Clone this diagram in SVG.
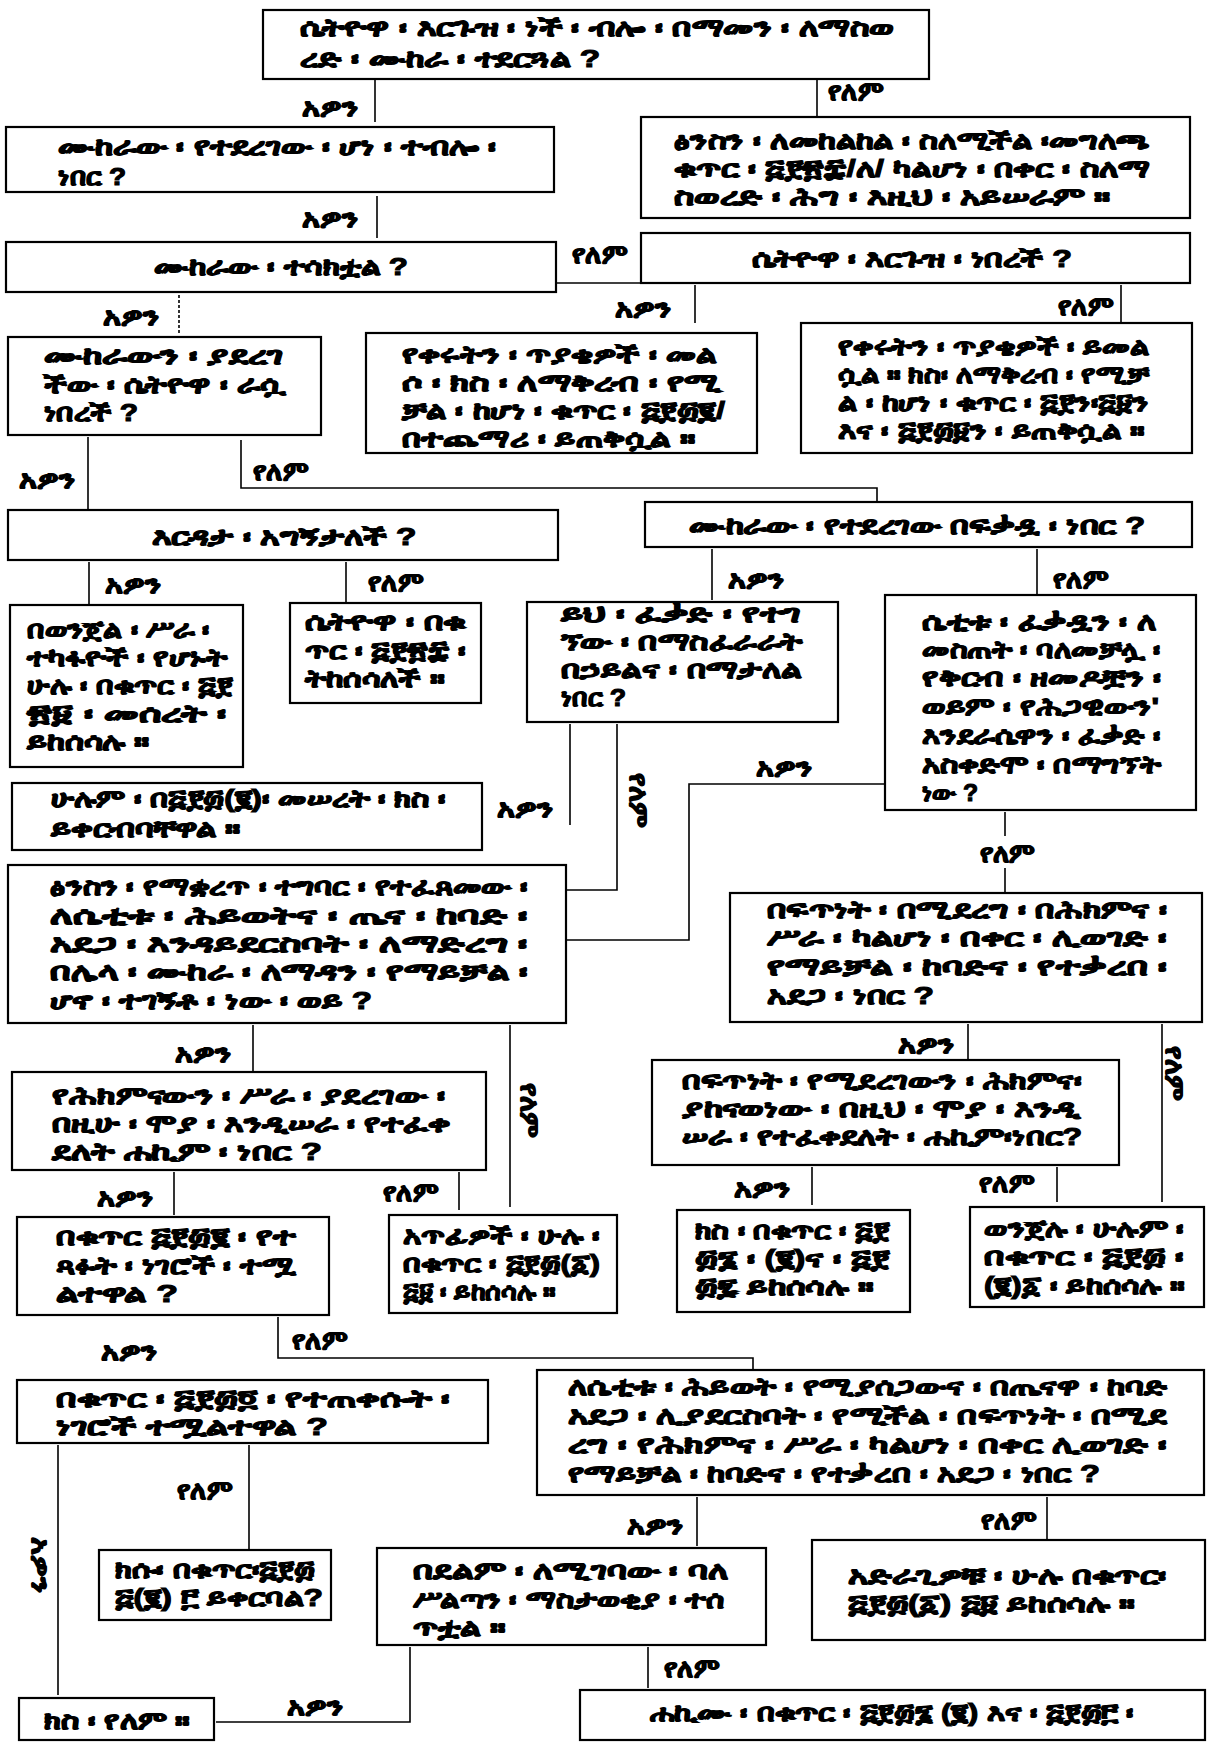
<svg xmlns="http://www.w3.org/2000/svg" width="1207" height="1743" viewBox="0 0 1207 1743">
<style>
.bx{fill:#fff;stroke:#000;stroke-width:2.2}
.t{font-family:"Liberation Sans","DejaVu Sans","Noto Sans",sans-serif;font-size:24px;font-weight:bold;fill:#000;stroke:#000;stroke-width:1.1}
.lb{font-family:"Liberation Sans","DejaVu Sans","Noto Sans",sans-serif;font-size:25px;font-weight:bold;fill:#000;stroke:#000;stroke-width:1.1}
.c{text-anchor:middle}
.ln{stroke:#000;stroke-width:1.6;fill:none}
.dt{stroke:#000;stroke-width:1.6;fill:none;stroke-dasharray:3 2}
</style>
<rect width="1207" height="1743" fill="#fff"/>
<g id="connectors">
<path class="ln" d="M375 80V122"/>
<path class="ln" d="M817 80V117"/>
<path class="ln" d="M377 196V238"/>
<path class="ln" d="M556 283H641"/>
<path class="dt" d="M179 295V335"/>
<path class="ln" d="M695 285V323"/>
<path class="ln" d="M1121 285V323"/>
<path class="ln" d="M88 437V510"/>
<path class="ln" d="M241 440V488H877V502"/>
<path class="ln" d="M89 562V605"/>
<path class="ln" d="M346 562V603"/>
<path class="ln" d="M712 549V600"/>
<path class="ln" d="M1037 549V595"/>
<path class="ln" d="M570 724V825"/>
<path class="ln" d="M617 724V890H566"/>
<path class="ln" d="M885 784H689V940H566"/>
<path class="ln" d="M1005 812V836M1005 868V893"/>
<path class="ln" d="M253 1025V1072"/>
<path class="ln" d="M510 1025V1207"/>
<path class="ln" d="M968 1024V1060"/>
<path class="ln" d="M1162 1024V1202"/>
<path class="ln" d="M174 1172V1215"/>
<path class="ln" d="M459 1172V1210"/>
<path class="ln" d="M812 1167V1205"/>
<path class="ln" d="M1057 1167V1202"/>
<path class="ln" d="M278 1317V1358H753V1370"/>
<path class="ln" d="M249 1445V1550"/>
<path class="ln" d="M58 1445V1695"/>
<path class="ln" d="M697 1497V1546"/>
<path class="ln" d="M1047 1497V1540"/>
<path class="ln" d="M410 1647V1722H216"/>
<path class="ln" d="M648 1647V1688"/>
<g class="lb">
<text x="302" y="116" textLength="56" lengthAdjust="spacingAndGlyphs">አዎን</text>
<text x="828" y="100" textLength="55" lengthAdjust="spacingAndGlyphs">የለም</text>
<text x="302" y="227" textLength="56" lengthAdjust="spacingAndGlyphs">አዎን</text>
<text x="572" y="263" textLength="55" lengthAdjust="spacingAndGlyphs">የለም</text>
<text x="103" y="325" textLength="56" lengthAdjust="spacingAndGlyphs">አዎን</text>
<text x="615" y="317" textLength="56" lengthAdjust="spacingAndGlyphs">አዎን</text>
<text x="1058" y="315" textLength="55" lengthAdjust="spacingAndGlyphs">የለም</text>
<text x="19" y="488" textLength="56" lengthAdjust="spacingAndGlyphs">አዎን</text>
<text x="253" y="480" textLength="55" lengthAdjust="spacingAndGlyphs">የለም</text>
<text x="105" y="593" textLength="56" lengthAdjust="spacingAndGlyphs">አዎን</text>
<text x="368" y="591" textLength="55" lengthAdjust="spacingAndGlyphs">የለም</text>
<text x="728" y="588" textLength="56" lengthAdjust="spacingAndGlyphs">አዎን</text>
<text x="1053" y="588" textLength="55" lengthAdjust="spacingAndGlyphs">የለም</text>
<text x="497" y="817" textLength="56" lengthAdjust="spacingAndGlyphs">አዎን</text>
<text x="0" y="0" class="c" transform="translate(630 800) rotate(90)" textLength="55" lengthAdjust="spacingAndGlyphs">የለም</text>
<text x="756" y="776" textLength="56" lengthAdjust="spacingAndGlyphs">አዎን</text>
<text x="1007" y="862" class="c" textLength="55" lengthAdjust="spacingAndGlyphs">የለም</text>
<text x="175" y="1062" textLength="56" lengthAdjust="spacingAndGlyphs">አዎን</text>
<text x="0" y="0" class="c" transform="translate(521 1110) rotate(90)" textLength="55" lengthAdjust="spacingAndGlyphs">የለም</text>
<text x="898" y="1053" textLength="56" lengthAdjust="spacingAndGlyphs">አዎን</text>
<text x="0" y="0" class="c" transform="translate(1166 1073) rotate(90)" textLength="55" lengthAdjust="spacingAndGlyphs">የለም</text>
<text x="97" y="1206" textLength="56" lengthAdjust="spacingAndGlyphs">አዎን</text>
<text x="383" y="1201" textLength="55" lengthAdjust="spacingAndGlyphs">የለም</text>
<text x="734" y="1197" textLength="56" lengthAdjust="spacingAndGlyphs">አዎን</text>
<text x="979" y="1192" textLength="55" lengthAdjust="spacingAndGlyphs">የለም</text>
<text x="101" y="1360" textLength="56" lengthAdjust="spacingAndGlyphs">አዎን</text>
<text x="292" y="1349" textLength="55" lengthAdjust="spacingAndGlyphs">የለም</text>
<text x="177" y="1499" textLength="55" lengthAdjust="spacingAndGlyphs">የለም</text>
<text x="0" y="0" class="c" transform="translate(32 1565) rotate(90)" textLength="56" lengthAdjust="spacingAndGlyphs">አዎን</text>
<text x="627" y="1534" textLength="56" lengthAdjust="spacingAndGlyphs">አዎን</text>
<text x="981" y="1529" textLength="55" lengthAdjust="spacingAndGlyphs">የለም</text>
<text x="287" y="1715" textLength="56" lengthAdjust="spacingAndGlyphs">አዎን</text>
<text x="664" y="1677" textLength="55" lengthAdjust="spacingAndGlyphs">የለም</text>
</g>
</g>
<g id="nA"><rect class="bx" x="263" y="10" width="666" height="69"/><text class="t"><tspan x="300" y="36" textLength="594" lengthAdjust="spacingAndGlyphs">ሴትዮዋ ፡ እርጉዝ ፡ ነች ፡ ብሎ ፡ በማመን ፡ ለማስወ</tspan><tspan x="300" y="67" textLength="300" lengthAdjust="spacingAndGlyphs">ረድ ፡ ሙከራ ፡ ተደርጓል ?</tspan></text></g>
<g id="nB"><rect class="bx" x="6" y="127" width="548" height="65"/><text class="t"><tspan x="58" y="155" textLength="438" lengthAdjust="spacingAndGlyphs">ሙከራው ፡ የተደረገው ፡ ሆነ ፡ ተብሎ ፡</tspan><tspan x="58" y="185" textLength="68" lengthAdjust="spacingAndGlyphs">ነበር ?</tspan></text></g>
<g id="nC"><rect class="bx" x="641" y="117" width="549" height="101"/><text class="t"><tspan x="674" y="149" textLength="476" lengthAdjust="spacingAndGlyphs">ፅንስን ፡ ለመከልከል ፡ ስለሚችል ፡መግለጫ</tspan><tspan x="674" y="177" textLength="476" lengthAdjust="spacingAndGlyphs">ቁጥር ፡ ፭፻፳፰/ለ/ ካልሆነ ፡ በቀር ፡ ስለማ</tspan><tspan x="674" y="205" textLength="436" lengthAdjust="spacingAndGlyphs">ስወረድ ፡ ሕግ ፡ እዚህ ፡ አይሠራም ።</tspan></text></g>
<g id="nD"><rect class="bx" x="6" y="242" width="550" height="50"/><text class="t c" x="281" y="275" textLength="254" lengthAdjust="spacingAndGlyphs">ሙከራው ፡ ተሳክቷል ?</text></g>
<g id="nE"><rect class="bx" x="641" y="233" width="549" height="50"/><text class="t c" x="912" y="267" textLength="320" lengthAdjust="spacingAndGlyphs">ሴትዮዋ ፡ እርጉዝ ፡ ነበረች ?</text></g>
<g id="nF"><rect class="bx" x="8" y="337" width="313" height="98"/><text class="t"><tspan x="44" y="364" textLength="239" lengthAdjust="spacingAndGlyphs">ሙከራውን ፡  ያደረገ</tspan><tspan x="44" y="393" textLength="241" lengthAdjust="spacingAndGlyphs">ችው ፡ ሴትዮዋ ፡ ራሷ</tspan><tspan x="44" y="421" textLength="94" lengthAdjust="spacingAndGlyphs">ነበረች ?</tspan></text></g>
<g id="nG"><rect class="bx" x="366" y="333" width="391" height="120"/><text class="t"><tspan x="402" y="363" textLength="315" lengthAdjust="spacingAndGlyphs">የቀሩትን ፡ ጥያቄዎች ፡ መል</tspan><tspan x="402" y="391" textLength="320" lengthAdjust="spacingAndGlyphs">ሶ ፡ ክስ ፡ ለማቅረብ ፡ የሚ</tspan><tspan x="402" y="419" textLength="323" lengthAdjust="spacingAndGlyphs">ቻል ፡ ከሆነ ፡ ቁጥር ፡ ፭፻፴፪/</tspan><tspan x="402" y="447" textLength="293" lengthAdjust="spacingAndGlyphs">በተጨማሪ ፡ ይጠቅሷል ።</tspan></text></g>
<g id="nH"><rect class="bx" x="801" y="323" width="391" height="130"/><text class="t"><tspan x="838" y="355" textLength="311" lengthAdjust="spacingAndGlyphs">የቀሩትን ፡ ጥያቄዎች ፡ ይመል</tspan><tspan x="838" y="383" textLength="311" lengthAdjust="spacingAndGlyphs">ሷል ። ክስ፡ ለማቅረብ ፡ የሚቻ</tspan><tspan x="838" y="411" textLength="311" lengthAdjust="spacingAndGlyphs">ል ፡ ከሆነ ፡ ቁጥር ፡ ፭፻ን፡፭፱ን</tspan><tspan x="838" y="439" textLength="306" lengthAdjust="spacingAndGlyphs">እና ፡ ፭፻፴፱ን ፡ ይጠቅሷል ።</tspan></text></g>
<g id="nI"><rect class="bx" x="8" y="510" width="550" height="50"/><text class="t c" x="284" y="545" textLength="265" lengthAdjust="spacingAndGlyphs">እርዳታ ፡ አግኝታለች ?</text></g>
<g id="nJ"><rect class="bx" x="645" y="502" width="547" height="45"/><text class="t c" x="917" y="534" textLength="456" lengthAdjust="spacingAndGlyphs">ሙከራው ፡ የተደረገው በፍቃዷ ፡ ነበር ?</text></g>
<g id="nK"><rect class="bx" x="10" y="605" width="233" height="162"/><text class="t"><tspan x="27" y="638" textLength="183" lengthAdjust="spacingAndGlyphs">በወንጀል ፡ ሥራ ፡</tspan><tspan x="27" y="666" textLength="200" lengthAdjust="spacingAndGlyphs">ተካፋዮች ፡ የሆኑት</tspan><tspan x="27" y="694" textLength="205" lengthAdjust="spacingAndGlyphs">ሁሉ ፡ በቁጥር ፡ ፭፻</tspan><tspan x="27" y="722" textLength="200" lengthAdjust="spacingAndGlyphs">፳፱ ፡  መሰረት  ፡</tspan><tspan x="27" y="750" textLength="122" lengthAdjust="spacingAndGlyphs">ይከሰሳሉ ።</tspan></text></g>
<g id="nL"><rect class="bx" x="290" y="603" width="191" height="100"/><text class="t"><tspan x="305" y="630" textLength="161" lengthAdjust="spacingAndGlyphs">ሴትዮዋ ፡  በቁ</tspan><tspan x="305" y="659" textLength="161" lengthAdjust="spacingAndGlyphs">ጥር ፡ ፭፻፳፰ ፡</tspan><tspan x="305" y="687" textLength="139" lengthAdjust="spacingAndGlyphs">ትከሰሳለች ።</tspan></text></g>
<g id="nM"><rect class="bx" x="527" y="602" width="311" height="120"/><text class="t"><tspan x="561" y="622" textLength="239" lengthAdjust="spacingAndGlyphs">ይህ ፡  ፈቃድ  ፡ የተገ</tspan><tspan x="561" y="650" textLength="241" lengthAdjust="spacingAndGlyphs">ኘው ፡ በማስፈራራት</tspan><tspan x="561" y="678" textLength="241" lengthAdjust="spacingAndGlyphs">በኃይልና ፡ በማታለል</tspan><tspan x="561" y="706" textLength="65" lengthAdjust="spacingAndGlyphs">ነበር ?</tspan></text></g>
<g id="nN"><rect class="bx" x="885" y="595" width="311" height="215"/><text class="t"><tspan x="922" y="630" textLength="234" lengthAdjust="spacingAndGlyphs">ሴቲቱ ፡ ፈቃዷን ፡ ለ</tspan><tspan x="922" y="658" textLength="239" lengthAdjust="spacingAndGlyphs">መስጠት ፡ ባለመቻሏ ፡</tspan><tspan x="922" y="686" textLength="239" lengthAdjust="spacingAndGlyphs">የቅርብ ፡ ዘመዶቿን ፡</tspan><tspan x="922" y="715" textLength="237" lengthAdjust="spacingAndGlyphs">ወይም ፡ የሕጋዊውን'</tspan><tspan x="922" y="744" textLength="239" lengthAdjust="spacingAndGlyphs">እንደራሴዋን ፡ ፈቃድ ፡</tspan><tspan x="922" y="773" textLength="239" lengthAdjust="spacingAndGlyphs">አስቀድሞ ፡ በማግኘት</tspan><tspan x="922" y="801" textLength="56" lengthAdjust="spacingAndGlyphs">ነው ?</tspan></text></g>
<g id="nO"><rect class="bx" x="12" y="783" width="470" height="67"/><text class="t"><tspan x="51" y="807" textLength="395" lengthAdjust="spacingAndGlyphs">ሁሉም ፡ በ፭፻፴(፪)፡ መሠረት ፡ ክስ ፡</tspan><tspan x="51" y="837" textLength="189" lengthAdjust="spacingAndGlyphs">ይቀርብባቸዋል ።</tspan></text></g>
<g id="nP"><rect class="bx" x="8" y="865" width="558" height="158"/><text class="t"><tspan x="50" y="895" textLength="478" lengthAdjust="spacingAndGlyphs">ፅንስን ፡ የማቋረጥ ፡ ተግባር ፡ የተፈጸመው ፡</tspan><tspan x="50" y="924" textLength="478" lengthAdjust="spacingAndGlyphs">ለሴቲቱ ፡ ሕይወትና  ፡  ጤና  ፡  ከባድ  ፡</tspan><tspan x="50" y="952" textLength="478" lengthAdjust="spacingAndGlyphs">አደጋ  ፡ እንዳይደርስባት  ፡  ለማድረግ  ፡</tspan><tspan x="50" y="980" textLength="478" lengthAdjust="spacingAndGlyphs">በሌላ  ፡  ሙከራ  ፡  ለማዳን ፡ የማይቻል  ፡</tspan><tspan x="50" y="1009" textLength="322" lengthAdjust="spacingAndGlyphs">ሆኖ ፡ ተገኝቶ ፡ ነው ፡ ወይ ?</tspan></text></g>
<g id="nQ"><rect class="bx" x="730" y="893" width="472" height="129"/><text class="t"><tspan x="767" y="918" textLength="400" lengthAdjust="spacingAndGlyphs">በፍጥነት ፡ በሚደረግ ፡ በሕክምና ፡</tspan><tspan x="767" y="946" textLength="400" lengthAdjust="spacingAndGlyphs">ሥራ ፡ ካልሆነ ፡ በቀር ፡ ሊወገድ ፡</tspan><tspan x="767" y="975" textLength="400" lengthAdjust="spacingAndGlyphs">የማይቻል  ፡ ከባድና  ፡  የተቃረበ ፡</tspan><tspan x="767" y="1004" textLength="167" lengthAdjust="spacingAndGlyphs">አደጋ ፡ ነበር ?</tspan></text></g>
<g id="nR"><rect class="bx" x="12" y="1072" width="474" height="98"/><text class="t"><tspan x="52" y="1104" textLength="393" lengthAdjust="spacingAndGlyphs">የሕክምናውን ፡ ሥራ ፡ ያደረገው ፡</tspan><tspan x="52" y="1132" textLength="398" lengthAdjust="spacingAndGlyphs">በዚሁ ፡ ሞያ ፡ እንዲሠራ ፡ የተፈቀ</tspan><tspan x="52" y="1160" textLength="270" lengthAdjust="spacingAndGlyphs">ደለት   ሐኪም ፡ ነበር ?</tspan></text></g>
<g id="nT"><rect class="bx" x="652" y="1060" width="467" height="105"/><text class="t"><tspan x="682" y="1089" textLength="400" lengthAdjust="spacingAndGlyphs">በፍጥነት ፡ የሚደረገውን  ፡  ሕክምና፡</tspan><tspan x="682" y="1117" textLength="398" lengthAdjust="spacingAndGlyphs">ያከናወነው ፡ በዚህ ፡ ሞያ ፡ እንዲ</tspan><tspan x="682" y="1145" textLength="400" lengthAdjust="spacingAndGlyphs">ሠራ  ፡ የተፈቀደለት ፡ ሐኪም፡ነበር?</tspan></text></g>
<g id="nW"><rect class="bx" x="17" y="1217" width="312" height="98"/><text class="t"><tspan x="56" y="1245" textLength="239" lengthAdjust="spacingAndGlyphs">በቁጥር   ፭፻፴፪ ፡ የተ</tspan><tspan x="56" y="1274" textLength="239" lengthAdjust="spacingAndGlyphs">ጻፉት ፡ ነገሮች ፡ ተሟ</tspan><tspan x="56" y="1302" textLength="122" lengthAdjust="spacingAndGlyphs">ልተዋል ?</tspan></text></g>
<g id="nS"><rect class="bx" x="389" y="1215" width="228" height="98"/><text class="t"><tspan x="403" y="1244" textLength="197" lengthAdjust="spacingAndGlyphs">አጥፊዎች ፡ ሁሉ ፡</tspan><tspan x="403" y="1272" textLength="197" lengthAdjust="spacingAndGlyphs">በቁጥር ፡ ፭፻፴(፩)</tspan><tspan x="403" y="1300" textLength="152" lengthAdjust="spacingAndGlyphs">፭፱ ፡ ይከሰሳሉ ።</tspan></text></g>
<g id="nU"><rect class="bx" x="677" y="1210" width="233" height="102"/><text class="t"><tspan x="695" y="1239" textLength="194" lengthAdjust="spacingAndGlyphs">ክስ ፡ በቁጥር ፡ ፭፻</tspan><tspan x="695" y="1267" textLength="194" lengthAdjust="spacingAndGlyphs">፴፮ ፡ (፪)ና  ፡  ፭፻</tspan><tspan x="695" y="1295" textLength="178" lengthAdjust="spacingAndGlyphs">፴፯  ይከሰሳሉ ።</tspan></text></g>
<g id="nV"><rect class="bx" x="970" y="1207" width="234" height="100"/><text class="t"><tspan x="984" y="1237" textLength="200" lengthAdjust="spacingAndGlyphs">ወንጀሉ ፡ ሁሉም ፡</tspan><tspan x="984" y="1265" textLength="200" lengthAdjust="spacingAndGlyphs">በቁጥር  ፡  ፭፻፴ ፡</tspan><tspan x="984" y="1294" textLength="200" lengthAdjust="spacingAndGlyphs">(፪)፩ ፡ ይከሰሳሉ ።</tspan></text></g>
<g id="nY"><rect class="bx" x="17" y="1380" width="471" height="63"/><text class="t"><tspan x="56" y="1407" textLength="394" lengthAdjust="spacingAndGlyphs">በቁጥር  ፡  ፭፻፴፬  ፡  የተጠቀሱት  ፡</tspan><tspan x="56" y="1435" textLength="272" lengthAdjust="spacingAndGlyphs">ነገሮች    ተሟልተዋል ?</tspan></text></g>
<g id="nX"><rect class="bx" x="537" y="1370" width="667" height="125"/><text class="t"><tspan x="568" y="1395" textLength="599" lengthAdjust="spacingAndGlyphs">ለሴቲቱ ፡ ሕይወት ፡ የሚያሰጋውና ፡ በጤናዋ ፡ ከባድ</tspan><tspan x="568" y="1424" textLength="599" lengthAdjust="spacingAndGlyphs">አደጋ ፡ ሊያደርስባት ፡ የሚችል ፡ በፍጥነት ፡ በሚደ</tspan><tspan x="568" y="1453" textLength="599" lengthAdjust="spacingAndGlyphs">ረግ ፡ የሕክምና ፡ ሥራ ፡ ካልሆነ ፡ በቀር   ሊወገድ ፡</tspan><tspan x="568" y="1482" textLength="532" lengthAdjust="spacingAndGlyphs">የማይቻል ፡ ከባድና ፡ የተቃረበ ፡ አደጋ ፡ ነበር ?</tspan></text></g>
<g id="nAB"><rect class="bx" x="99" y="1550" width="232" height="70"/><text class="t"><tspan x="115" y="1578" textLength="200" lengthAdjust="spacingAndGlyphs">ክሱ፡ በቁጥር፡፭፻፴</tspan><tspan x="115" y="1606" textLength="208" lengthAdjust="spacingAndGlyphs">፭(፪) ፫ ይቀርባል?</tspan></text></g>
<g id="nZ"><rect class="bx" x="377" y="1548" width="389" height="97"/><text class="t"><tspan x="413" y="1579" textLength="315" lengthAdjust="spacingAndGlyphs">በደልም  ፡  ለሚገባው  ፡  ባለ</tspan><tspan x="413" y="1608" textLength="311" lengthAdjust="spacingAndGlyphs">ሥልጣን ፡ ማስታወቂያ ፡ ተሰ</tspan><tspan x="413" y="1636" textLength="92" lengthAdjust="spacingAndGlyphs">ጥቷል ።</tspan></text></g>
<g id="nAA"><rect class="bx" x="812" y="1540" width="393" height="100"/><text class="t"><tspan x="848" y="1584" textLength="319" lengthAdjust="spacingAndGlyphs">አድራጊዎቹ ፡ ሁሉ  በቁጥር፡</tspan><tspan x="848" y="1612" textLength="286" lengthAdjust="spacingAndGlyphs">፭፻፴(፩) ፭፱   ይከሰሳሉ ።</tspan></text></g>
<g id="nAC"><rect class="bx" x="19" y="1698" width="195" height="42"/><text class="t" x="44" y="1729" textLength="145" lengthAdjust="spacingAndGlyphs">ክስ ፡ የለም ።</text></g>
<g id="nAD"><rect class="bx" x="580" y="1690" width="625" height="50"/><text class="t" x="650" y="1721" textLength="484" lengthAdjust="spacingAndGlyphs">ሐኪሙ ፡ በቁጥር ፡ ፭፻፴፮ (፪) እና ፡ ፭፻፴፫ ፡</text></g>
</svg>
